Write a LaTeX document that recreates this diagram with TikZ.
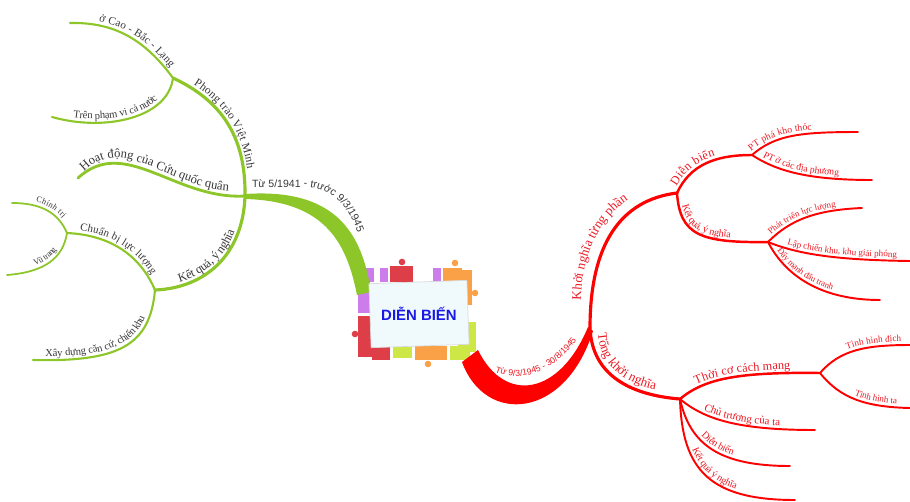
\documentclass[tikz,border=0pt]{standalone}
\usepackage{fontspec}
\setmainfont{Liberation Serif}
\setsansfont{Liberation Sans}
\usetikzlibrary{decorations.text}

\definecolor{limeg}{RGB}{141,198,40}
\definecolor{redb}{RGB}{255,0,0}
\definecolor{redtxt}{RGB}{235,25,35}
\definecolor{graytxt}{RGB}{55,55,55}
\definecolor{pzpurple}{RGB}{205,125,235}
\definecolor{pzred}{RGB}{222,62,72}
\definecolor{pzorange}{RGB}{250,160,70}
\definecolor{pzlime}{RGB}{205,232,70}
\definecolor{titleblue}{RGB}{25,25,230}
\definecolor{cardfill}{RGB}{240,250,252}

\newcommand\lblsans[1]{\sffamily\fontsize{#1}{#1}\selectfont}
\newcommand\lblserif[1]{\rmfamily\fontsize{#1}{#1}\selectfont}

\tikzset{
  gbr/.style={draw=limeg, line cap=round, line width=#1},
  gbr/.default=1.2pt,
  rbr/.style={draw=redb, line cap=round, line width=#1},
  rbr/.default=1.1pt,
  % text laid along a branch: indent, font size, text
  gtext/.style n args={3}{decorate, decoration={text along path, raise=2.2pt,
    text align={left indent=#1}, text color=graytxt, text={|\lblserif{#2}|#3}}},
  rtext/.style n args={3}{decorate, decoration={text along path, raise=2pt,
    text align={left indent=#1}, text color=redtxt, text={|\lblserif{#2}|#3}}},
  curvetext/.style n args={3}{decorate, decoration={text along path, text color=#1, text={|#2|#3}}},
}

\begin{document}
\begin{tikzpicture}[x=0.02cm, y=0.02cm]
\useasboundingbox (0,0) rectangle (910,-501);

% junctions
\coordinate (J1) at (245,-196);
\coordinate (J2) at (173,-78);
\coordinate (J3) at (155,-290);
\coordinate (J4) at (67,-233);
\coordinate (R1) at (590,-328);
\coordinate (R2) at (677,-193);
\coordinate (R3) at (680,-399);
\coordinate (R4) at (752,-155);
\coordinate (R5) at (768,-242);
\coordinate (R6) at (820,-373);
% branch ends, left
\coordinate (C1) at (70,-23);
\coordinate (C2) at (52,-117);
\coordinate (C3) at (78,-178);
\coordinate (C4) at (33,-360);
\coordinate (C5) at (12,-203);
\coordinate (C6) at (7,-275);
% branch ends, right
\coordinate (L1) at (858,-132);
\coordinate (L2) at (872,-180);
\coordinate (L3) at (862,-208);
\coordinate (L4) at (910,-261);
\coordinate (L5) at (880,-300);
\coordinate (L6) at (910,-345);
\coordinate (L7) at (910,-408);
\coordinate (L8) at (815,-430);
\coordinate (L9) at (790,-466);
\coordinate (L10) at (795,-500);

% puzzle frame
\foreach \xa/\ya/\xb/\yb/\c in {362/268/374/282/pzpurple, 380/268/388/282/pzpurple,
    390/266/413/282/pzred, 433/268/441/282/pzpurple, 443/268/462/282/pzorange,
    460/270/472/305/pzorange, 458/322/476/352/pzlime,
    358/270/370/313/pzpurple, 358/316/372/357/pzred,
    372/346/390/360/pzred, 393/347/412/358/pzlime, 415/346/447/360/pzorange,
    450/346/470/360/pzlime}
  \fill[\c] (\xa,-\ya) rectangle (\xb,-\yb);
\foreach \x/\y/\c in {402/262/pzred, 455/263/pzorange, 475/293/pzorange,
    355/334/pzred, 428/364/pzorange, 357/278/pzpurple}
  \fill[\c] (\x,-\y) circle (3.3);

% green side
\fill[limeg] (245,-194) .. controls (335,-188) and (362,-232) .. (371,-292)
  -- (357,-295) .. controls (347,-245) and (327,-201) .. (245,-199) -- cycle;
\path[curvetext={graytxt}{\lblsans{6}}{Từ 5/1941 - trước 9/3/1945}]
  (252,-187) -- (300,-187) .. controls (338,-186) and (358,-215) .. (365,-265);

\begin{scope}
\draw[gbr=1.8pt] (J1) .. controls (246,-135) and (220,-100) .. (J2);
\path[gtext={12pt}{6.5}{Phong trào Việt Minh}]
  (J2) .. controls (220,-100) and (246,-135) .. (J1);
\draw[gbr] (J2) .. controls (145,-40) and (115,-22) .. (C1);
\path[gtext={16pt}{6.3}{ở Cao - Bắc - Lạng}]
  (C1) .. controls (115,-22) and (145,-40) .. (J2);
\draw[gbr] (J2) .. controls (168,-118) and (105,-132) .. (C2);
\path[gtext={12pt}{6}{Trên phạm vi cả nước}]
  (C2) .. controls (105,-132) and (168,-118) .. (J2);
\draw[gbr=1.6pt] (J1) .. controls (175,-200) and (125,-135) .. (C3);
\path[curvetext={graytxt}{\lblserif{7.2}}{Hoạt động của Cứu quốc quân}]
  (84,-172) .. controls (125,-130) and (175,-195) .. (242,-191);
\draw[gbr=1.8pt] (J1) .. controls (243,-255) and (205,-288) .. (J3);
\path[gtext={15pt}{7}{Kết quả, ý nghĩa}]
  (J3) .. controls (205,-288) and (243,-255) .. (J1);
\draw[gbr] (J3) .. controls (140,-255) and (110,-235) .. (J4);
\path[gtext={7pt}{6.2}{Chuẩn bị lực lượng}]
  (J4) .. controls (110,-235) and (140,-255) .. (J3);
\draw[gbr] (J3) .. controls (150,-345) and (120,-362) .. (C4);
\path[gtext={7pt}{6}{Xây dựng căn cứ, chiến khu}]
  (C4) .. controls (120,-362) and (150,-345) .. (J3);
\draw[gbr=1pt] (J4) .. controls (58,-212) and (40,-203) .. (C5);
\path[gtext={13pt}{4.8}{Chính trị}]
  (C5) .. controls (40,-203) and (58,-212) .. (J4);
\draw[gbr=1pt] (J4) .. controls (63,-258) and (45,-272) .. (C6);
\path[gtext={17pt}{4.8}{Vũ trang}]
  (C6) .. controls (45,-272) and (63,-258) .. (J4);
\end{scope}

% red side
\fill[redb] (462,-362) .. controls (485,-425) and (565,-420) .. (593,-331)
  -- (588,-327) .. controls (560,-395) and (505,-405) .. (478,-350) -- cycle;
\path[curvetext={redtxt}{\lblsans{5}}{Từ 9/3/1945 - 30/8/1945}]
  (495,-372) .. controls (525,-385) and (565,-368) .. (587,-322);

\begin{scope}
\draw[rbr=1.8pt] (R1) .. controls (590,-245) and (620,-200) .. (R2);
\path[curvetext={redtxt}{\lblserif{7.5}}{Khởi nghĩa từng phần}]
  (581,-300) .. controls (582,-240) and (612,-195) .. (668,-183);
\draw[rbr=1.8pt] (R1) .. controls (592,-375) and (630,-395) .. (R3);
\path[curvetext={redtxt}{\lblserif{7.5}}{Tổng khởi nghĩa}]
  (598,-333) .. controls (600,-370) and (632,-390) .. (676,-392);
\draw[rbr=1.4pt] (R2) .. controls (690,-165) and (715,-155) .. (R4);
\path[rtext={3pt}{7}{Diễn biến}]
  (R2) .. controls (690,-165) and (715,-155) .. (R4);
\draw[rbr=1.4pt] (R2) .. controls (680,-235) and (700,-243) .. (R5);
\path[rtext={8pt}{5.8}{Kết quả, ý nghĩa}]
  (R2) .. controls (680,-235) and (700,-243) .. (R5);
\draw[rbr] (R4) .. controls (775,-135) and (800,-132) .. (L1);
\path[rtext={1pt}{5.5}{PT phá kho thóc}]
  (R4) .. controls (775,-135) and (800,-132) .. (L1);
\draw[rbr] (R4) .. controls (775,-170) and (805,-180) .. (L2);
\path[rtext={6pt}{5.5}{PT ở các địa phương}]
  (R4) .. controls (775,-170) and (805,-180) .. (L2);
\draw[rbr] (R5) .. controls (790,-220) and (815,-210) .. (L3);
\path[rtext={4pt}{5}{Phát triển lực lượng}]
  (R5) .. controls (790,-220) and (815,-210) .. (L3);
\draw[rbr] (R5) .. controls (800,-255) and (840,-260) .. (L4);
\path[rtext={11pt}{5.2}{Lập chiến khu, khu giải phóng}]
  (R5) .. controls (800,-255) and (840,-260) .. (L4);
\draw[rbr] (R5) .. controls (785,-275) and (820,-300) .. (L5);
\path[rtext={7pt}{5}{Đẩy mạnh đấu tranh}]
  (R5) .. controls (785,-275) and (820,-300) .. (L5);
\draw[rbr=1.4pt] (R3) .. controls (705,-378) and (740,-372) .. (R6);
\path[rtext={12pt}{7}{Thời cơ cách mạng}]
  (R3) .. controls (705,-378) and (740,-372) .. (R6);
\draw[rbr] (R3) .. controls (705,-420) and (740,-430) .. (L8);
\path[rtext={15pt}{6.3}{Chủ trương của ta}]
  (R3) .. controls (705,-420) and (740,-430) .. (L8);
\draw[rbr] (R3) .. controls (690,-445) and (720,-466) .. (L9);
\path[rtext={25pt}{5.7}{Diễn biến}]
  (R3) .. controls (690,-445) and (720,-466) .. (L9);
\draw[rbr] (R3) .. controls (682,-470) and (710,-500) .. (L10);
\path[rtext={30pt}{5.7}{Kết quả ý nghĩa}]
  (R3) .. controls (682,-470) and (710,-500) .. (L10);
\draw[rbr] (R6) .. controls (840,-350) and (865,-345) .. (L6);
\path[rtext={20pt}{5.2}{Tình hình địch}]
  (R6) .. controls (840,-350) and (865,-345) .. (L6);
\draw[rbr] (R6) .. controls (840,-398) and (865,-407) .. (L7);
\path[rtext={24pt}{5.2}{Tình hình ta}]
  (R6) .. controls (840,-398) and (865,-407) .. (L7);
\end{scope}

% title card
\node[draw=gray!30, fill=cardfill, minimum width=1.96cm, minimum height=1.28cm,
  rotate=2, inner sep=0pt] (card) at (419,-314) {};
\node[font=\sffamily\bfseries\fontsize{8.5}{9}\selectfont, text=titleblue] (title)
  at (card.center) {DIỄN BIẾN};

\end{tikzpicture}
\end{document}
